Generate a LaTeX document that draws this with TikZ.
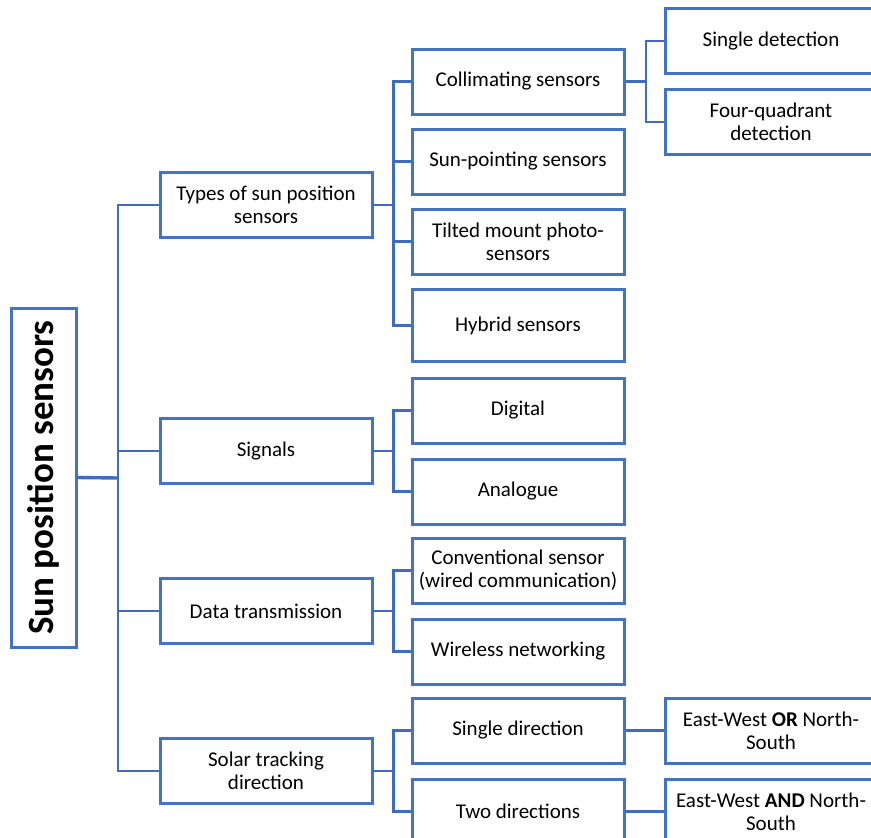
\documentclass[tikz,border=0pt]{standalone}
\usepackage{fontspec}
\setmainfont{Carlito}
\usepackage{tikz}
\usetikzlibrary{positioning,calc}
\definecolor{tblue}{RGB}{68,114,196}
\definecolor{lblue}{RGB}{64,108,188}

\begin{document}
\begin{tikzpicture}[x=1pt,y=-1pt,
  box/.style={draw=tblue,line width=3pt,fill=white,minimum width=212pt,minimum height=65pt,
    inner sep=2pt,align=center,font=\fontsize{21}{23}\selectfont},
  link/.style={draw=lblue,line width=2.6pt}]
\useasboundingbox (0,0) rectangle (871,838);
\clip (0,0) rectangle (871,838);
\node[draw=tblue,line width=3pt,rotate=90,minimum width=339pt,minimum height=65pt,inner sep=0pt,
  font=\fontsize{37}{40}\selectfont\bfseries] (root) at (43.5,477.5) {Sun position sensors};
% first level
\node[box] (types) at (266,205) {Types of sun position\\sensors};
\node[box] (sig) at (266,451) {Signals};
\node[box] (data) at (266,611) {Data transmission};
\node[box] (track) at (266,771) {Solar tracking\\direction};
% second level
\node[box] (coll) at (518,81.5) {Collimating sensors};
\node[box] (sunp) at (518,161.5) {Sun-pointing sensors};
\node[box] (tilt) at (518,241.5) {Tilted mount photo-\\sensors};
\node[box,minimum height=72pt] (hyb) at (518,325.5) {Hybrid sensors};
\node[box] (dig) at (518,410.5) {Digital};
\node[box] (ana) at (518,491.5) {Analogue};
\node[box] (conv) at (518,570.5) {Conventional sensor\\(wired communication)};
\node[box] (wire) at (518,651.5) {Wireless networking};
\node[box] (onedir) at (518,730.5) {Single direction};
\node[box] (twodir) at (518,811.5) {Two directions};
% third level
\node[box] (sdet) at (771,41) {Single detection};
\node[box] (fdet) at (771,122) {Four-quadrant\\detection};
\node[box] (ewor) at (771,730.5) {East-West \textbf{OR} North-\\South};
\node[box] (ewand) at (771,811.5) {East-West \textbf{AND} North-\\South};

\coordinate (trunk) at (118,478);
\draw[link,line width=3.4pt] (root.south) -- (trunk);
\foreach \n in {types,sig,data,track}
  \draw[link] (\n.west) -| (trunk);
\foreach \n in {coll,sunp,tilt,hyb}
  \draw[link] (types.east) -- ++(20,0) |- (\n.west);
\foreach \a/\b in {sig/dig,sig/ana,data/conv,data/wire,track/onedir,track/twodir}
  \draw[link] (\a.east) -- ++(20,0) |- (\b.west);
\foreach \n in {sdet,fdet}
  \draw[link] (coll.east) -- ++(20.5,0) |- (\n.west);
\draw[link] (onedir.east) -- (ewor.west);
\draw[link] (twodir.east) -- (ewand.west);
\end{tikzpicture}
\end{document}
